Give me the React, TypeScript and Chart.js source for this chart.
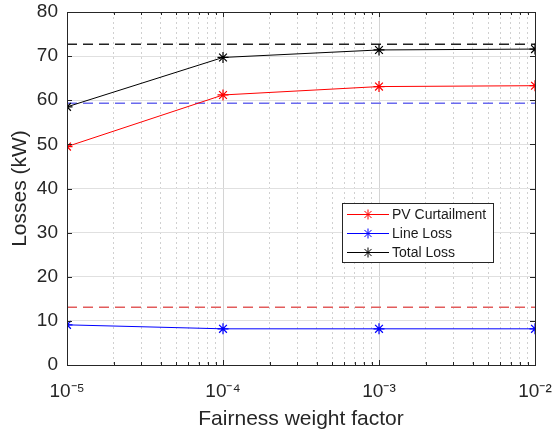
import { useEffect, useRef } from "react";
import { Chart, registerables } from "chart.js";

Chart.register(...registerables);

// ---- data ----
const xValues = [1e-5, 1e-4, 1e-3, 1e-2];
const pvCurtailment = [49.5, 61.2, 63.1, 63.3];
const lineLoss = [9.1, 8.2, 8.2, 8.2];
const totalLoss = [58.5, 69.7, 71.4, 71.6];
const refBlack = 72.7;
const refBlue = 59.3;
const refRed = 13.1;
const xTickLabels = ["10\u207B\u2075", "10\u207B\u2074", "10\u207B\u00B3", "10\u207B\u00B2"];
const yTickValues = [0, 10, 20, 30, 40, 50, 60, 70, 80];
const minorXValues = [1e-5, 1e-4, 1e-3].flatMap((d) => [2, 3, 4, 5, 6, 7, 8, 9].map((m) => m * d));

const FONT = "'Liberation Sans', Arial, Helvetica, sans-serif";

const pts = (ys: number[]) => xValues.map((x, i) => ({ x, y: ys[i] }));
const flat = (y: number) => [
  { x: xValues[0], y },
  { x: xValues[xValues.length - 1], y },
];

const framePlugin = {
  id: "frame",
  afterDatasetsDraw(chart: any) {
    const { ctx, chartArea: a, scales } = chart;
    ctx.save();
    ctx.strokeStyle = "#262626";
    ctx.lineWidth = 1;
    ctx.strokeRect(Math.round(a.left) + 0.5, Math.round(a.top) + 0.5, Math.round(a.right - a.left), Math.round(a.bottom - a.top));
    ctx.beginPath();
    yTickValues.forEach((v) => {
      const y = Math.round(scales.y.getPixelForValue(v)) + 0.5;
      ctx.moveTo(a.left, y);
      ctx.lineTo(a.left + 5, y);
      ctx.moveTo(a.right, y);
      ctx.lineTo(a.right - 5, y);
    });
    xValues.forEach((v) => {
      const x = Math.round(scales.x.getPixelForValue(v)) + 0.5;
      ctx.moveTo(x, a.bottom);
      ctx.lineTo(x, a.bottom - 5);
      ctx.moveTo(x, a.top);
      ctx.lineTo(x, a.top + 5);
    });
    minorXValues.forEach((v) => {
      const x = Math.round(scales.x.getPixelForValue(v)) + 0.5;
      ctx.moveTo(x, a.bottom);
      ctx.lineTo(x, a.bottom - 3);
      ctx.moveTo(x, a.top);
      ctx.lineTo(x, a.top + 3);
    });
    ctx.stroke();
    ctx.restore();
  },
};

function drawStar(ctx: CanvasRenderingContext2D, x: number, y: number, r: number) {
  ctx.beginPath();
  ctx.moveTo(x - r, y);
  ctx.lineTo(x + r, y);
  ctx.moveTo(x, y - r);
  ctx.lineTo(x, y + r);
  const d = r * 0.7071;
  ctx.moveTo(x - d, y - d);
  ctx.lineTo(x + d, y + d);
  ctx.moveTo(x - d, y + d);
  ctx.lineTo(x + d, y - d);
  ctx.stroke();
}

const legendPlugin = {
  id: "boxLegend",
  afterDraw(chart: any) {
    const { ctx } = chart;
    const items = chart.data.datasets.filter((d: any) => d.showInLegend);
    const bx = 342, by = 203, bw = 151, bh = 59;
    ctx.save();
    ctx.fillStyle = "#ffffff";
    ctx.fillRect(bx, by, bw, bh);
    ctx.strokeStyle = "#262626";
    ctx.lineWidth = 1;
    ctx.strokeRect(bx + 0.5, by + 0.5, bw, bh);
    ctx.font = `14px ${FONT}`;
    ctx.textBaseline = "middle";
    ctx.textAlign = "left";
    items.forEach((d: any, i: number) => {
      const y = by + 11.5 + i * 19;
      ctx.strokeStyle = d.borderColor;
      ctx.lineWidth = 1;
      ctx.beginPath();
      ctx.moveTo(bx + 5, y);
      ctx.lineTo(bx + 47, y);
      ctx.stroke();
      drawStar(ctx, bx + 26, y, 5);
      ctx.fillStyle = "#1a1a1a";
      ctx.fillText(d.label, bx + 50, y + 1);
    });
    ctx.restore();
  },
};

export default function App() {
  const ref = useRef<HTMLCanvasElement | null>(null);
  useEffect(() => {
    document.body.style.margin = "0";
    const canvas = ref.current!;
    const mainLine = (label: string, color: string, ys: number[]) => ({
      label,
      data: pts(ys),
      borderColor: color,
      backgroundColor: color,
      borderWidth: 1,
      pointStyle: "star",
      pointRadius: 5.5,
      pointBorderWidth: 1.2,
      pointBorderColor: color,
      showInLegend: true,
    });
    const refLine = (label: string, color: string, y: number) => ({
      label,
      data: flat(y),
      borderColor: color,
      borderWidth: 1.5,
      borderDash: [10, 6],
      pointRadius: 0,
      showInLegend: false,
    });
    const chart = new Chart(canvas, {
      type: "line",
      data: {
        datasets: [
          mainLine("PV Curtailment", "#ff0000", pvCurtailment),
          mainLine("Line Loss", "#0000ff", lineLoss),
          mainLine("Total Loss", "#000000", totalLoss),
          refLine("Total ref", "#222222", refBlack),
          refLine("Blue ref", "#6a6aee", refBlue),
          refLine("Red ref", "#e25c5c", refRed),
        ] as any,
      },
      options: {
        animation: false,
        responsive: false,
        maintainAspectRatio: false,
        layout: { padding: { top: 12, right: 19, left: 0, bottom: 0 } },
        plugins: { legend: { display: false }, tooltip: { enabled: false } },
        elements: { line: { tension: 0 } },
        scales: {
          x: {
            type: "logarithmic",
            min: xValues[0],
            max: xValues[xValues.length - 1],
            afterBuildTicks: (s: any) => {
              s.ticks = xValues.map((v) => ({ value: v }));
            },
            afterFit: (s: any) => {
              s.height = 68;
              s.paddingLeft = 0;
              s.paddingRight = 0;
            },
            ticks: {
              autoSkip: false,
              maxRotation: 0,
              padding: 15,
              color: "#262626",
              font: { family: FONT, size: 19 },
              callback: (_v: any, i: number) => xTickLabels[i],
            },
            grid: { color: "#d4d4d4", drawTicks: false, lineWidth: 1 },
            border: { display: false },
            title: {
              display: true,
              text: "Fairness weight factor",
              color: "#262626",
              font: { family: FONT, size: 21 },
              padding: { top: 0, bottom: 1 },
            },
          },
          xm: {
            type: "logarithmic",
            position: "bottom",
            min: xValues[0],
            max: xValues[xValues.length - 1],
            afterBuildTicks: (s: any) => {
              s.ticks = minorXValues.map((v) => ({ value: v }));
            },
            afterFit: (s: any) => {
              s.height = 0;
              s.paddingLeft = 0;
              s.paddingRight = 0;
            },
            ticks: { display: false },
            grid: { color: "#d0d0d0", drawTicks: false, lineWidth: 1 },
            border: { display: false, dash: [2, 3] },
          },
          y: {
            type: "linear",
            min: 0,
            max: 80,
            afterBuildTicks: (s: any) => {
              s.ticks = yTickValues.map((v) => ({ value: v }));
            },
            afterFit: (s: any) => {
              s.width = 67;
              s.paddingTop = 0;
              s.paddingBottom = 0;
            },
            ticks: {
              padding: 9,
              color: "#262626",
              font: { family: FONT, size: 19 },
            },
            grid: { color: "#e0e0e0", drawTicks: false, lineWidth: 1 },
            border: { display: false },
            title: {
              display: true,
              text: "Losses (kW)",
              color: "#262626",
              font: { family: FONT, size: 21 },
              padding: { top: 8, bottom: 0 },
            },
          },
        } as any,
      },
      plugins: [framePlugin, legendPlugin],
    });
    return () => chart.destroy();
  }, []);
  return (
    <div style={{ width: 554, height: 433, background: "#fff" }}>
      <canvas ref={ref} width={554} height={433} style={{ display: "block" }} />
    </div>
  );
}
